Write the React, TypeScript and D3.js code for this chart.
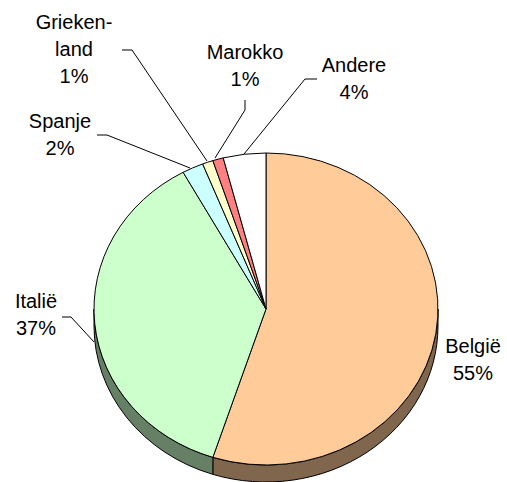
import * as d3 from 'd3';
import React from 'react';

// slices clockwise from 12 o'clock
const countries = ['België', 'Italië', 'Spanje', 'Grieken-\nland', 'Marokko', 'Andere'];
const shares = [55, 37, 2, 1, 1, 4];
const percentLabels = ['55%', '37%', '2%', '1%', '1%', '4%'];
const topColors = ['#FFCC99', '#CCFFCC', '#CCFFFF', '#FFFFCC', '#FF8080', '#FFFFFF'];

const W = 507;
const H = 482;
const cx = 266;
const cy = 309;
const rx = 172;
const ry = 156;
const depth = 17;

// label placement (text centre, first baseline) and leader lines
const labelPos: [number, number][] = [
  [473, 353], [36, 308], [60, 128], [74, 29], [245, 59], [354, 72],
];
const leaders: ([number, number][] | null)[] = [
  null,
  [[62, 317], [71, 317], [94, 342]],
  [[97, 135], [107, 135], [190, 168]],
  [[122, 50], [132, 50], [207, 161]],
  [[245, 100], [245, 110], [215, 158]],
  [[317, 79], [305, 79], [244, 154]],
];

const px = (a: number) => cx + rx * Math.sin(a);
const py = (a: number) => cy - ry * Math.cos(a);

function sidePath(a0: number, a1: number) {
  const large = a1 - a0 > Math.PI ? 1 : 0;
  return `M${px(a0)},${py(a0)} A${rx},${ry} 0 ${large} 1 ${px(a1)},${py(a1)}` +
    ` L${px(a1)},${py(a1) + depth} A${rx},${ry} 0 ${large} 0 ${px(a0)},${py(a0) + depth} Z`;
}

export default function App() {
  const pie = d3.pie<number>().sort(null).value(d => d);
  const arcs = pie(shares);
  const arc = d3.arc<d3.PieArcDatum<number>>().innerRadius(0).outerRadius(rx);
  const darker = (c: string) => {
    const col = d3.rgb(c);
    return d3.rgb(col.r * 0.5, col.g * 0.5, col.b * 0.5).formatHex();
  };

  // front side wall: visible between 90° and 270°
  const sides = arcs.map((a, i) => {
    const s = Math.max(a.startAngle, Math.PI / 2);
    const e = Math.min(a.endAngle, 3 * Math.PI / 2);
    if (e <= s) return null;
    return <path key={i} d={sidePath(s, e)} fill={darker(topColors[i])} stroke="#000" strokeWidth={1} />;
  });

  return (
    <svg width={W} height={H} style={{ position: 'absolute', left: 0, top: 0, background: '#fff' }}
      fontFamily="'Liberation Sans', Arial, sans-serif" fontSize={20}>
      {sides}
      <g transform={`translate(${cx},${cy}) scale(1,${ry / rx})`}>
        {arcs.map((a, i) => (
          <path key={i} d={arc(a) as string} fill={topColors[i]} stroke="#000" strokeWidth={1}
            vectorEffect="non-scaling-stroke" strokeLinejoin="round" />
        ))}
      </g>
      {leaders.map((pts, i) => pts && (
        <polyline key={i} points={pts.map(p => p.join(',')).join(' ')} fill="none" stroke="#000" strokeWidth={1} />
      ))}
      {countries.map((c, i) => {
        const lines = [...c.split('\n'), percentLabels[i]];
        return (
          <text key={i} x={labelPos[i][0]} y={labelPos[i][1]} textAnchor="middle" fill="#000">
            {lines.map((l, j) => (
              <tspan key={j} x={labelPos[i][0]} dy={j === 0 ? 0 : 27}>{l}</tspan>
            ))}
          </text>
        );
      })}
    </svg>
  );
}
